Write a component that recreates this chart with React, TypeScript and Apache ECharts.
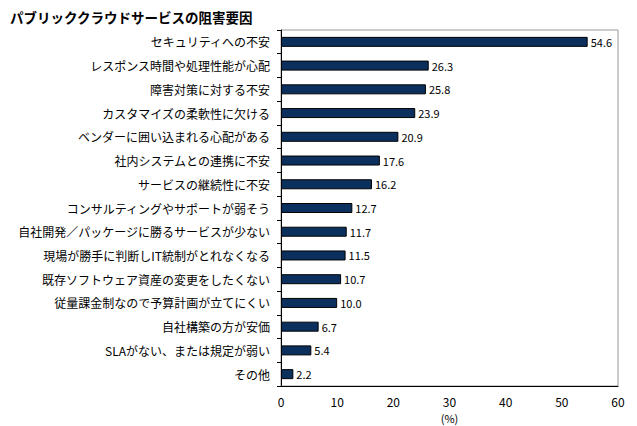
import React, { useEffect, useRef } from "react";
import * as echarts from "echarts";

const categories = [
  "セキュリティへの不安",
  "レスポンス時間や処理性能が心配",
  "障害対策に対する不安",
  "カスタマイズの柔軟性に欠ける",
  "ベンダーに囲い込まれる心配がある",
  "社内システムとの連携に不安",
  "サービスの継続性に不安",
  "コンサルティングやサポートが弱そう",
  "自社開発／パッケージに勝るサービスが少ない",
  "現場が勝手に判断しIT統制がとれなくなる",
  "既存ソフトウェア資産の変更をしたくない",
  "従量課金制なので予算計画が立てにくい",
  "自社構築の方が安価",
  "SLAがない、または規定が弱い",
  "その他",
];
const values = [54.6, 26.3, 25.8, 23.9, 20.9, 17.6, 16.2, 12.7, 11.7, 11.5, 10.7, 10.0, 6.7, 5.4, 2.2];
const xTicks = [0, 10, 20, 30, 40, 50, 60];
const title = "パブリッククラウドサービスの阻害要因";
const unit = "(%)";

export default function App() {
  const ref = useRef<HTMLDivElement>(null);
  useEffect(() => {
    if (!ref.current) return;
    const chart = echarts.init(ref.current, null, { renderer: "svg" });
    const font = "'Noto Sans CJK JP', sans-serif";
    chart.setOption({
      animation: false,
      backgroundColor: "#ffffff",
      textStyle: { fontFamily: font },
      title: {
        text: title,
        left: 5,
        top: 5,
        textStyle: { fontSize: 13.5, fontWeight: "bold", color: "#000", fontFamily: font },
      },
      grid: {
        left: 281,
        top: 30,
        width: 337,
        height: 356,
        show: true,
        borderColor: "#999",
        borderWidth: 1,
        outerBoundsMode: "none",
        containLabel: false,
      },
      xAxis: {
        type: "value",
        min: xTicks[0],
        max: xTicks[xTicks.length - 1],
        interval: 10,
        axisLine: { show: true, lineStyle: { color: "#000" } },
        axisTick: { show: false },
        splitLine: { show: false },
        axisLabel: { color: "#000", fontSize: 12, margin: 9, lineHeight: 13, fontFamily: font },
        name: unit,
        nameLocation: "middle",
        nameGap: 26,
        nameMoveOverlap: false,
        nameTextStyle: { color: "#000", fontSize: 11, lineHeight: 12, verticalAlign: "top", fontFamily: font },
      },
      yAxis: {
        type: "category",
        data: categories,
        inverse: true,
        axisLine: { show: true, lineStyle: { color: "#000" } },
        axisTick: { show: true, length: 4, lineStyle: { color: "#000" } },
        axisLabel: { color: "#000", fontSize: 12, margin: 11, fontFamily: font },
      },
      series: [
        {
          type: "bar",
          data: values,
          barWidth: 10,
          itemStyle: { color: "#0c305e", borderColor: "#000", borderWidth: 1 },
          label: {
            show: true,
            position: "right",
            distance: 3,
            color: "#000",
            fontSize: 11,
            fontFamily: font,
            formatter: (p: any) => Number(p.value).toFixed(1),
          },
        },
      ],
    });
    return () => chart.dispose();
  }, []);
  return <div ref={ref} style={{ position: "fixed", left: 0, top: 0, width: 637, height: 426 }} />;
}
